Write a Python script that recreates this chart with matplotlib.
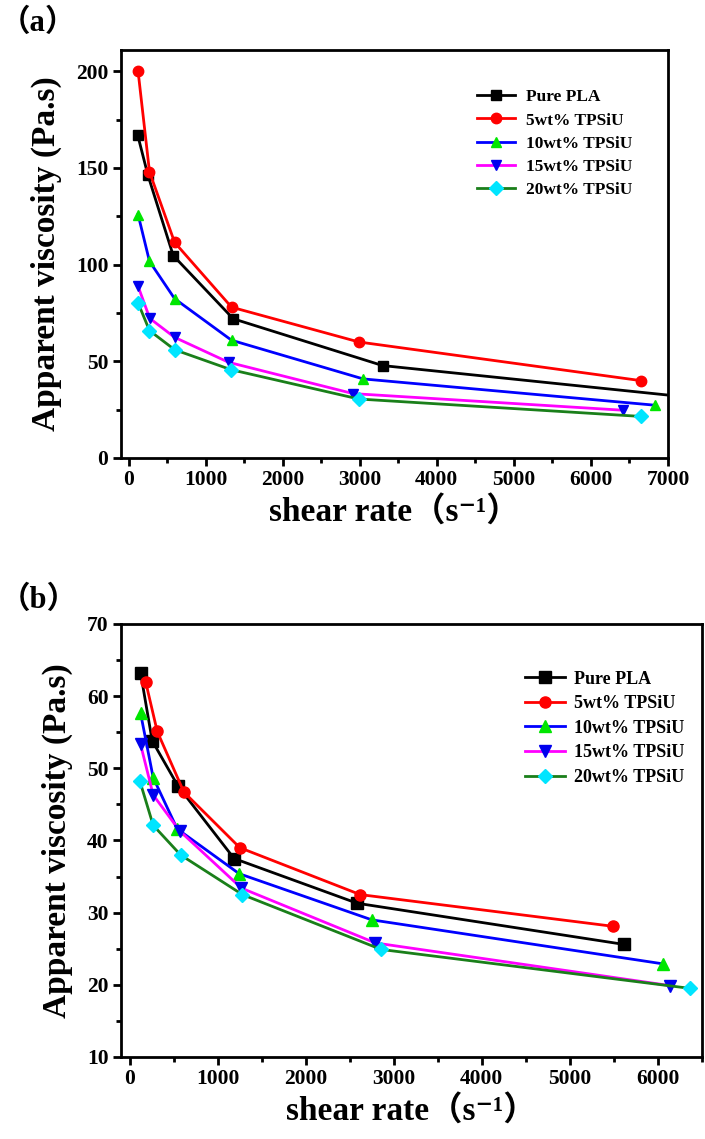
import matplotlib
matplotlib.use("Agg")
import matplotlib.pyplot as plt
from matplotlib.ticker import MultipleLocator

plt.rcParams["font.family"] = ["Liberation Serif", "Noto Sans CJK SC", "DejaVu Sans"]
plt.rcParams["font.weight"] = "bold"

labels = ["Pure PLA", "5wt% TPSiU", "10wt% TPSiU", "15wt% TPSiU", "20wt% TPSiU"]
line_colors = ["black", "#ff0000", "#0000ff", "#ff00ff", "#1a7f1a"]
marker_colors = ["black", "#ff0000", "#00e600", "#0000ee", "#00e5ff"]
markers = ["s", "o", "^", "v", "D"]

# panel (a): shear rate (1/s) and apparent viscosity (Pa.s)
a_rate = [
    [117, 248, 578, 1357, 3296, 7300],
    [122, 270, 596, 1335, 2987, 6650],
    [122, 270, 596, 1335, 3043, 6830],
    [122, 274, 596, 1296, 2913, 6417],
    [122, 270, 596, 1326, 2987, 6646],
]
a_visc = [
    [167, 146.5, 104.7, 72, 47.8, 31.3],
    [200, 148, 111.5, 78, 60, 40],
    [125.9, 101.7, 82.4, 60.9, 40.9, 27.3],
    [88.8, 72.2, 62.4, 49.5, 33.3, 24.7],
    [80.2, 65.9, 56, 45.7, 30.5, 21.5],
]

# panel (b)
b_rate = [
    [123, 255, 550, 1185, 2584, 5614],
    [180, 312, 615, 1250, 2618, 5494],
    [123, 266, 539, 1242, 2750, 6060],
    [123, 266, 569, 1268, 2791, 6132],
    [115, 266, 577, 1280, 2856, 6370],
]
b_visc = [
    [63.2, 53.8, 47.5, 37.5, 31.3, 25.6],
    [62.0, 55.1, 46.7, 39.0, 32.5, 28.1],
    [57.6, 48.7, 41.6, 35.4, 29.0, 22.9],
    [53.3, 46.3, 41.3, 33.4, 25.8, 19.9],
    [48.2, 42.1, 38.0, 32.5, 24.9, 19.5],
]

fig = plt.figure(figsize=(7.05, 11.39), dpi=100)
ax1 = fig.add_axes([0.1716, 0.5979, 0.7759, 0.3582])
ax2 = fig.add_axes([0.1716, 0.0720, 0.8240, 0.3802])


def draw(ax, rates, viscs, msize):
    for x, y, lab, lc, mc, m in zip(rates, viscs, labels, line_colors, marker_colors, markers):
        ax.plot(x, y, c=lc, lw=2, marker=m, ms=msize if m != "D" else msize - 0.7,
                mfc=mc, mec=mc, label=lab)


def style(ax):
    for s in ax.spines.values():
        s.set_linewidth(2)
    ax.tick_params(which="both", direction="out", width=2, labelsize=15.5, pad=3)
    ax.tick_params(which="major", length=6)
    ax.tick_params(which="minor", length=3.5)
    ax.set_xlabel("shear rate（s⁻¹）", fontsize=24, fontweight="bold", labelpad=4)
    ax.set_ylabel("Apparent viscosity (Pa.s)", fontsize=24, fontweight="bold", labelpad=10)
    for t in ax.get_xticklabels() + ax.get_yticklabels():
        t.set_fontweight("bold")


draw(ax1, a_rate, a_visc, 7.5)
ax1.set_xlim(-100, 7000)
ax1.set_ylim(0, 211)
ax1.xaxis.set_major_locator(MultipleLocator(1000))
ax1.xaxis.set_minor_locator(MultipleLocator(500))
ax1.yaxis.set_major_locator(MultipleLocator(50))
ax1.yaxis.set_minor_locator(MultipleLocator(25))
style(ax1)
ax1.legend(loc="upper left", bbox_to_anchor=(0.635, 0.925), frameon=False,
           prop={"size": 12.5, "weight": "bold"}, labelspacing=0.4, handlelength=2.2,
           handletextpad=0.6, borderpad=0)

draw(ax2, b_rate, b_visc, 8)
ax2.set_xlim(-100, 6500)
ax2.set_ylim(10, 70)
ax2.xaxis.set_major_locator(MultipleLocator(1000))
ax2.xaxis.set_minor_locator(MultipleLocator(500))
ax2.yaxis.set_major_locator(MultipleLocator(10))
ax2.yaxis.set_minor_locator(MultipleLocator(5))
style(ax2)
ax2.legend(loc="upper left", bbox_to_anchor=(0.68, 0.913), frameon=False,
           prop={"size": 13, "weight": "bold"}, labelspacing=0.42, handlelength=2.2,
           handletextpad=0.5, borderpad=0)

fig.text(0.0, 0.980, "（a）", fontsize=22, fontweight="bold", va="center")
fig.text(0.0, 0.473, "（b）", fontsize=22, fontweight="bold", va="center")

fig.savefig("out.png", dpi=100)
